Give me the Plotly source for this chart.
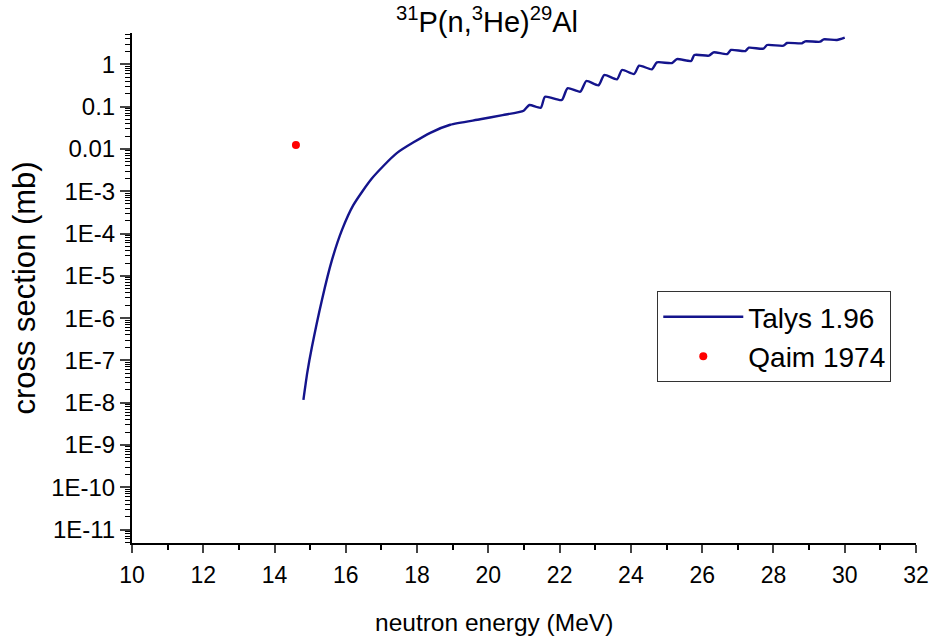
import plotly.graph_objects as go

# Talys 1.96 calculation (neutron energy MeV, cross section mb)
talys_energy = [14.81, 14.92, 15.05, 15.33, 15.61, 15.89, 16.21, 16.73, 17.43,
                18.37, 18.93, 19.77, 20.40, 20.99,
                21.15, 21.47, 21.59, 22.06, 22.22, 22.58, 22.75, 23.09, 23.25, 23.61,
                23.75, 24.09, 24.23, 24.59, 24.73, 25.15, 25.29, 25.69, 25.78, 26.19,
                26.32, 26.70, 26.81, 27.21, 27.31, 27.72, 27.82, 28.28, 28.38, 28.80,
                28.89, 29.31, 29.41, 29.78, 30.00]
talys_xs = [1.17e-8, 5.2e-8, 2.09e-7, 2.69e-6, 2.34e-5, 1.20e-4, 4.68e-4, 2.0e-3, 7.94e-3,
            2.40e-2, 3.72e-2, 5.01e-2, 6.31e-2, 8.0e-2,
            0.109, 0.094, 0.171, 0.143, 0.271, 0.225, 0.403, 0.319, 0.558, 0.442,
            0.733, 0.590, 0.927, 0.762, 1.11, 1.07, 1.33, 1.20, 1.66, 1.60,
            1.92, 1.75, 2.18, 2.06, 2.47, 2.34, 2.86, 2.75, 3.19, 3.13,
            3.50, 3.42, 3.90, 3.75, 4.26]

# Qaim 1974 experimental point
qaim_energy = [14.6]
qaim_xs = [0.0124]

# Axis ticks
y_exponents = list(range(-11, 1))
y_tickvals = [10.0 ** e for e in y_exponents]
y_ticktext = ["1E-11", "1E-10", "1E-9", "1E-8", "1E-7", "1E-6", "1E-5", "1E-4", "1E-3", "0.01", "0.1", "1"]
y_minor = [m * 10.0 ** e for e in range(-12, 1) for m in range(2, 10)]
x_tickvals = list(range(10, 33, 2))

FONT = "Liberation Sans, Arial, sans-serif"

fig = go.Figure()
fig.add_trace(go.Scatter(x=talys_energy, y=talys_xs, mode="lines", name="Talys 1.96",
                         line=dict(color="#14148c", width=2.4, shape="spline", smoothing=0.6)))
fig.add_trace(go.Scatter(x=qaim_energy, y=qaim_xs, mode="markers", name="Qaim 1974",
                         marker=dict(color="#ff0000", size=8)))

fig.update_layout(
    width=933, height=641,
    margin=dict(l=132, r=17, t=33, b=98),
    paper_bgcolor="white", plot_bgcolor="white",
    font=dict(family=FONT, color="black"),
    title=dict(text="<sup>31</sup>P(n,<sup>3</sup>He)<sup>29</sup>Al", x=0.522, xref="container",
               xanchor="center", y=0.966, yref="container", yanchor="middle",
               font=dict(size=29, family=FONT, color="black")),
    legend=dict(x=0.670, y=0.494, xanchor="left", yanchor="top",
                bordercolor="#333333", borderwidth=1, bgcolor="white",
                font=dict(size=28, family=FONT, color="black"), itemwidth=80,
                tracegroupgap=0),
    showlegend=True,
    annotations=[dict(text="neutron energy (MeV)", xref="paper", yref="paper", x=0.462, y=-0.155,
                      xanchor="center", yanchor="middle", showarrow=False,
                      font=dict(size=24.5, family=FONT, color="black"))],
)
fig.update_xaxes(range=[10, 32], tickvals=x_tickvals, ticks="outside", ticklen=8, tickwidth=2,
                 showline=True, linecolor="black", linewidth=2, showgrid=False, zeroline=False,
                 automargin=False, ticklabelstandoff=2,
                 tickfont=dict(size=23, family=FONT, color="black"),
                 minor=dict(dtick=1, ticks="outside", ticklen=5, tickwidth=2, tickcolor="black", showgrid=False))
fig.update_yaxes(type="log", range=[-11.317, 0.74], tickmode="array", tickvals=y_tickvals, ticktext=y_ticktext,
                 ticks="outside", ticklen=10, tickwidth=2, showline=True, linecolor="black", linewidth=2,
                 showgrid=False, zeroline=False, automargin=False,
                 tickfont=dict(size=24, family=FONT, color="black"),
                 minor=dict(tickmode="array", tickvals=y_minor, ticks="outside", ticklen=5, tickwidth=1,
                            tickcolor="black", showgrid=False),
                 title=dict(text="cross section (mb)", font=dict(size=31, family=FONT, color="black"), standoff=6))

fig.write_html("out.html")
